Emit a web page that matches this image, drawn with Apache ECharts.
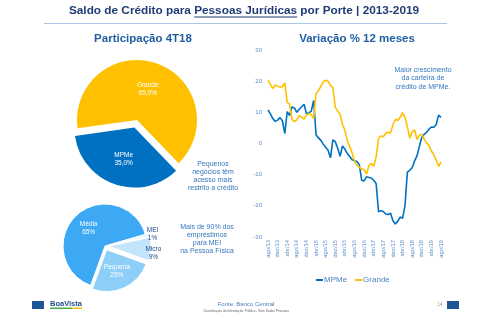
<!DOCTYPE html>
<html>
<head>
<meta charset="utf-8">
<script src="https://cdn.jsdelivr.net/npm/echarts@6/dist/echarts.min.js"></script>
<style>
  html, body { margin: 0; padding: 0; background: #ffffff; }
  #chart { width: 500px; height: 332px; }
</style>
</head>
<body>
<div id="chart"></div>
<script>
// Share of SME vs large-company credit balance (4T18)
const shareNames = ['Grande', 'MPMe'];
const shareValues = [65.0, 35.0];

// Breakdown of the small-business segment
const smeNames = ['Média', 'MEI', 'Micro', 'Pequena'];
const smeValues = [65, 1, 9, 25];

// Monthly categories, ago/13 .. ago/19
const months = [
  'ago/13','set/13','out/13','nov/13','dez/13',
  'jan/14','fev/14','mar/14','abr/14','mai/14','jun/14','jul/14','ago/14','set/14','out/14','nov/14','dez/14',
  'jan/15','fev/15','mar/15','abr/15','mai/15','jun/15','jul/15','ago/15','set/15','out/15','nov/15','dez/15',
  'jan/16','fev/16','mar/16','abr/16','mai/16','jun/16','jul/16','ago/16','set/16','out/16','nov/16','dez/16',
  'jan/17','fev/17','mar/17','abr/17','mai/17','jun/17','jul/17','ago/17','set/17','out/17','nov/17','dez/17',
  'jan/18','fev/18','mar/18','abr/18','mai/18','jun/18','jul/18','ago/18','set/18','out/18','nov/18','dez/18',
  'jan/19','fev/19','mar/19','abr/19','mai/19','jun/19','jul/19','ago/19'
];

// 12-month % change of the credit balance
const mpmeGrowth = [
  10.8, 9.5, 8.0, 7.1, 7.5, 8.3, 7.3, 3.2, 10.2, 9.0,
  11.7, 11.4, 10.0, 11.0, 11.8, 12.6, 9.6, 9.8, 10.4, 13.8,
  2.8, 1.8, 1.0, -0.2, -1.2, -2.2, -4.6, 1.2, 0.6, -1.5,
  -4.1, -0.8, -1.8, -3.2, -4.2, -5.2, -5.5, -5.8, -6.8, -11.8,
  -12.0, -10.7, -10.9, -11.1, -11.8, -12.8, -21.9, -21.6, -21.8, -22.6,
  -22.8, -22.4, -24.8, -25.8, -25.0, -23.6, -24.0, -20.0, -9.2, -8.6,
  -7.8, -5.6, -4.0, -1.0, 2.0, 2.9, 3.6, 4.6, 5.3, 5.2,
  6.1, 9.1, 8.4
];
const grandeGrowth = [
  20.3, 19.0, 17.6, 18.8, 18.4, 18.1, 18.2, 19.4, 13.2, 12.6,
  7.8, 7.0, 7.6, 8.9, 8.5, 7.8, 9.1, 9.6, 9.3, 8.0,
  16.0, 17.0, 18.3, 19.8, 20.3, 20.0, 18.6, 18.0, 11.6, 10.4,
  9.4, 6.2, 4.2, 1.0, -1.0, -3.0, -5.6, -7.0, -7.6, -8.2,
  -8.4, -9.8, -7.1, -6.4, -7.3, -4.3, 1.6, 2.4, 2.2, 3.2,
  3.6, 3.4, 6.0, 7.8, 7.4, 8.4, 9.9, 8.4, 5.4, 1.7,
  3.7, 4.4, 1.3, 2.6, 3.0, 1.4, 0.2, -0.6, -2.4, -3.6,
  -5.4, -7.4, -5.9
];
const yTicks = { min: -30, max: 30, step: 10 };

const FONT = '"Liberation Sans", Arial, sans-serif';
const NAVY = '#1F3C76';
const MID_BLUE = '#1F5FA3';
const NOTE_BLUE = '#3476BE';
const AXIS_BLUE = '#5B8DCB';

const chart = echarts.init(document.getElementById('chart'), null, { renderer: 'canvas' });

// underline position for the highlighted part of the title
const titlePre = 'Saldo de Crédito para ';
const titleMid = 'Pessoas Jurídicas';
const titlePost = ' por Porte | 2013-2019';
const titleFont = 'bold 11.8px ' + FONT;
const ctx = document.createElement('canvas').getContext('2d');
ctx.font = titleFont;
const wPre = ctx.measureText(titlePre).width;
const wMid = ctx.measureText(titleMid).width;
const wAll = ctx.measureText(titlePre + titleMid + titlePost).width;
const titleCx = 244;
const ulStart = titleCx - wAll / 2 + wPre;

function fmtComma(v) { return v.toFixed(1).replace('.', ',') + '%'; }

const option = {
  animation: false,
  textStyle: { fontFamily: FONT },
  graphic: [
    { type: 'text', left: titleCx - wAll / 2, top: 5,
      style: { text: titlePre + titleMid + titlePost, font: titleFont, fill: NAVY } },
    { type: 'rect', shape: { x: ulStart, y: 16.5, width: wMid, height: 1 }, style: { fill: NAVY } },
    { type: 'rect', shape: { x: 44, y: 23, width: 403, height: 1 }, style: { fill: '#A7C7E7' } },
    { type: 'text', x: 143, y: 39,
      style: { text: 'Participação 4T18', font: 'bold 11.5px ' + FONT, fill: MID_BLUE, align: 'center', verticalAlign: 'middle' } },
    { type: 'text', x: 357, y: 39,
      style: { text: 'Variação % 12 meses', font: 'bold 11.5px ' + FONT, fill: MID_BLUE, align: 'center', verticalAlign: 'middle' } },
    { type: 'text', x: 213, y: 176,
      style: { text: 'Pequenos\nnegócios têm\nacesso mais\nrestrito a crédito', font: '7px ' + FONT, lineHeight: 8.2,
               fill: NOTE_BLUE, align: 'center', verticalAlign: 'middle' } },
    { type: 'text', x: 207, y: 239,
      style: { text: 'Mais de 90% dos\nempréstimos\npara MEI\nna Pessoa Física', font: '7px ' + FONT, lineHeight: 8.1,
               fill: NOTE_BLUE, align: 'center', verticalAlign: 'middle' } },
    { type: 'text', x: 423, y: 78.5,
      style: { text: 'Maior crescimento\nda carteira de\ncrédito de MPMe.', font: '7px ' + FONT, lineHeight: 8.3,
               fill: NOTE_BLUE, align: 'center', verticalAlign: 'middle' } },
    // footer
    { type: 'rect', shape: { x: 32, y: 301, width: 12, height: 8 }, style: { fill: '#1E5596' } },
    { type: 'text', x: 50, y: 303.5,
      style: { text: 'BoaVista', font: 'bold 7.5px ' + FONT, fill: '#1E4F8E', verticalAlign: 'middle' } },
    { type: 'rect', shape: { x: 50, y: 307.5, width: 22, height: 1.5 }, style: { fill: '#4DAF4E' } },
    { type: 'rect', shape: { x: 72, y: 307.5, width: 10, height: 1.5 }, style: { fill: '#F4C20D' } },
    { type: 'text', x: 246, y: 304,
      style: { text: 'Fonte: Banco Central', font: '6px ' + FONT, fill: '#4A7EBB', align: 'center', verticalAlign: 'middle' } },
    { type: 'text', x: 246, y: 311,
      style: { text: 'Classificação da Informação: Público - Sem Dados Pessoais', font: '3.2px ' + FONT, fill: '#666666',
               align: 'center', verticalAlign: 'middle' } },
    { type: 'text', x: 440, y: 305,
      style: { text: '14', font: '4.5px ' + FONT, fill: '#999999', align: 'center', verticalAlign: 'middle' } },
    { type: 'rect', shape: { x: 447, y: 301, width: 12, height: 8 }, style: { fill: '#1E5596' } }
  ],
  legend: {
    data: ['MPMe', 'Grande'],
    left: 311, top: 271,
    icon: 'rect', itemWidth: 7, itemHeight: 2, itemGap: 8,
    textStyle: { fontSize: 8, color: '#4E81BD', padding: [0, 0, 0, -4] },
    selectedMode: false
  },
  grid: { left: 268, right: 59, top: 50, bottom: 95, containLabel: false },
  xAxis: {
    type: 'category', data: months, boundaryGap: false,
    axisLine: { show: false }, axisTick: { show: false },
    axisLabel: { interval: 3, rotate: 90, fontSize: 5.8, color: AXIS_BLUE, margin: 3 }
  },
  yAxis: {
    type: 'value', min: yTicks.min, max: yTicks.max, interval: yTicks.step,
    axisLine: { show: false }, axisTick: { show: false }, splitLine: { show: false },
    axisLabel: { fontSize: 6, color: AXIS_BLUE, margin: 6 }
  },
  series: [
    {
      type: 'pie', name: 'Participação', center: [137, 120], radius: 60,
      startAngle: 188, clockwise: true,
      selectedMode: 'multiple', selectedOffset: 8,
      emphasis: { disabled: true }, silent: true,
      label: {
        position: 'inside', color: '#ffffff', fontSize: 6.5, lineHeight: 8,
        formatter: p => p.name + '\n' + fmtComma(p.value)
      },
      labelLine: { show: false },
      data: shareNames.map((n, i) => ({
        name: n, value: shareValues[i], selected: n === 'MPMe',
        itemStyle: { color: n === 'Grande' ? '#FFC000' : '#0070C0' }
      }))
    },
    {
      type: 'pie', name: 'Porte', center: [105, 246], radius: 42,
      startAngle: 250, clockwise: true,
      selectedMode: 'multiple', selectedOffset: 4,
      emphasis: { disabled: true }, silent: true,
      itemStyle: { borderColor: '#ffffff', borderWidth: 1 },
      label: {
        position: 'inside', color: '#ffffff', fontSize: 6.5, lineHeight: 8,
        formatter: p => p.name + '\n' + p.value + '%'
      },
      labelLine: { show: false, length: 2, length2: 1 },
      labelLayout: p => (p.labelRect && p.dataIndex !== 0 && p.dataIndex !== 3)
        ? { align: 'center', x: p.labelRect.x + p.labelRect.width / 2 } : {},
      data: smeNames.map((n, i) => {
        const colors = { 'Média': '#3DA9F4', 'MEI': '#DDF0FD', 'Micro': '#C3E5FB', 'Pequena': '#8DCFF9' };
        const item = { name: n, value: smeValues[i], selected: n !== 'Média', itemStyle: { color: colors[n] } };
        if (n === 'MEI' || n === 'Micro') {
          item.label = { position: 'outside', color: '#1F4E8C' };
        }
        return item;
      })
    },
    {
      type: 'line', name: 'MPMe', data: mpmeGrowth, showSymbol: false, symbol: 'none',
      lineStyle: { color: '#0070C0', width: 1.6 }, itemStyle: { color: '#0070C0' }
    },
    {
      type: 'line', name: 'Grande', data: grandeGrowth, showSymbol: false, symbol: 'none',
      lineStyle: { color: '#FFC000', width: 1.6 }, itemStyle: { color: '#FFC000' }
    }
  ]
};

chart.setOption(option);
</script>
</body>
</html>
